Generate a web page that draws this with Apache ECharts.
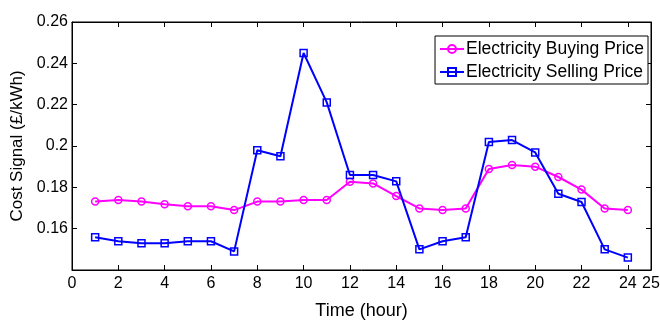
<!DOCTYPE html>
<html><head><meta charset="utf-8">
<script src="https://cdn.jsdelivr.net/npm/echarts@6/dist/echarts.min.js"></script>
<style>html,body{margin:0;padding:0;background:#fff}#c{width:660px;height:325px}</style>
</head><body><div id="c"></div>
<script>
const hours = [1,2,3,4,5,6,7,8,9,10,11,12,13,14,15,16,17,18,19,20,21,22,23,24];
const buyingPrice = [0.1731,0.1739,0.1731,0.1718,0.1708,0.1708,0.1690,0.1731,0.1731,0.1739,0.1739,0.1827,0.1819,0.1758,0.1698,0.1690,0.1698,0.1889,0.1908,0.1900,0.1850,0.1789,0.1698,0.1690];
const sellingPrice = [0.1558,0.1539,0.1529,0.1529,0.1539,0.1539,0.1490,0.1979,0.1950,0.2450,0.2211,0.1860,0.1860,0.1829,0.1500,0.1539,0.1558,0.2019,0.2029,0.1969,0.1769,0.1729,0.1500,0.1460];
const xTicks = [0,2,4,6,8,10,12,14,16,18,20,22,24,25];
const yTicks = [0.16,0.18,0.2,0.22,0.24,0.26];
const seriesNames = ['Electricity Buying Price','Electricity Selling Price'];

const FONT = '"Liberation Sans", Arial, sans-serif';
const chart = echarts.init(document.getElementById('c'), null, {renderer:'canvas'});
const axLine = {show:true, onZero:false, lineStyle:{color:'#000', width:1}};
const xAxisBase = {type:'value', min:0, max:25, splitLine:{show:false}, axisLine:axLine};
const yAxisBase = {type:'value', min:0.14, max:0.26, interval:0.02, splitLine:{show:false}, axisLine:axLine};
chart.setOption({
  animation:false,
  backgroundColor:'#fff',
  grid:{left:72, right:9, top:22, bottom:55, containLabel:false, outerBoundsMode:'none',
        show:true, borderColor:'#000', borderWidth:1, backgroundColor:'rgba(0,0,0,0)'},
  legend:{
    data:seriesNames, orient:'vertical', right:12, top:36,
    backgroundColor:'#fff', borderColor:'#000', borderWidth:1, padding:[4,4,3,4],
    itemGap:5, itemWidth:24, itemHeight:10,
    textStyle:{fontFamily:FONT, fontSize:17.5, color:'#000', padding:[0,0,0,-3]}
  },
  xAxis:[
    Object.assign({}, xAxisBase, {
      position:'bottom', name:'Time (hour)', nameLocation:'middle', nameGap:32,
      nameTextStyle:{fontFamily:FONT, fontSize:18, color:'#000'},
      axisTick:{show:true, inside:true, length:5, customValues:xTicks, lineStyle:{color:'#000'}},
      axisLabel:{customValues:xTicks, fontFamily:FONT, fontSize:16, color:'#000', margin:6}
    }),
    Object.assign({}, xAxisBase, {
      position:'top',
      axisTick:{show:true, inside:true, length:5, customValues:xTicks, lineStyle:{color:'#000'}},
      axisLabel:{show:false}
    })
  ],
  yAxis:[
    Object.assign({}, yAxisBase, {
      position:'left', name:'Cost Signal (£/kWh)', nameLocation:'middle', nameGap:44, nameRotate:90,
      nameTextStyle:{fontFamily:FONT, fontSize:17, color:'#000'},
      axisTick:{show:true, inside:true, length:5, customValues:yTicks, lineStyle:{color:'#000'}},
      axisLabel:{customValues:yTicks, fontFamily:FONT, fontSize:16, color:'#000', margin:4,
        formatter:v=>String(+v.toFixed(2))}
    }),
    Object.assign({}, yAxisBase, {
      position:'right',
      axisTick:{show:true, inside:true, length:5, customValues:yTicks, lineStyle:{color:'#000'}},
      axisLabel:{show:false}
    })
  ],
  series:[
    {name:seriesNames[0], type:'line', xAxisIndex:0, yAxisIndex:0,
     data:hours.map((h,i)=>[h,buyingPrice[i]]),
     symbol:'circle', symbolSize:7, showAllSymbol:true,
     lineStyle:{color:'#ff00ff', width:2},
     itemStyle:{color:'rgba(255,255,255,0)', borderColor:'#ff00ff', borderWidth:1.5}},
    {name:seriesNames[1], type:'line', xAxisIndex:0, yAxisIndex:0,
     data:hours.map((h,i)=>[h,sellingPrice[i]]),
     symbol:'rect', symbolSize:7, showAllSymbol:true,
     lineStyle:{color:'#0000ff', width:2},
     itemStyle:{color:'rgba(255,255,255,0)', borderColor:'#0000ff', borderWidth:1.5}}
  ]
});
</script></body></html>
